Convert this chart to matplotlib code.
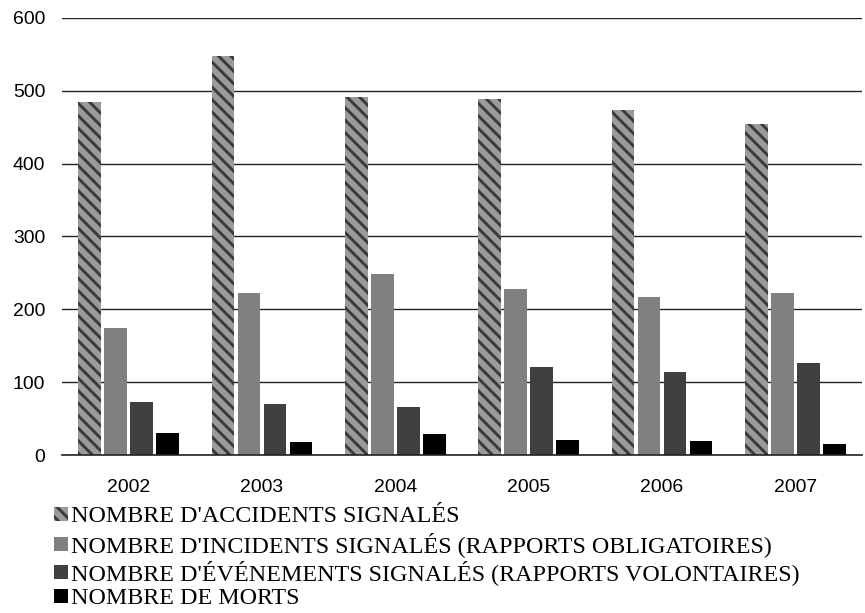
import numpy as np
import matplotlib.pyplot as plt
from matplotlib.patches import Patch

years = ['2002', '2003', '2004', '2005', '2006', '2007']
accidents = [485, 548, 492, 489, 473, 454]
incidents = [174, 223, 248, 228, 217, 222]
evenements = [73, 70, 66, 121, 114, 126]
morts = [30, 18, 29, 21, 19, 15]

labels = ["NOMBRE D'ACCIDENTS SIGNALÉS",
          "NOMBRE D'INCIDENTS SIGNALÉS (RAPPORTS OBLIGATOIRES)",
          "NOMBRE D'ÉVÉNEMENTS SIGNALÉS (RAPPORTS VOLONTAIRES)",
          "NOMBRE DE MORTS"]

# dpi 75 so that the hatch stripes come out ~12 px apart
DPI = 75
k = 100 / DPI  # point sizes scaled so they look like at 100 dpi

plt.rcParams['font.family'] = ['Liberation Sans', 'DejaVu Sans']
plt.rcParams['hatch.linewidth'] = 2.8

fig = plt.figure(figsize=(865 / DPI, 613 / DPI), dpi=DPI)
ax = fig.add_axes([62 / 865, 158 / 613, 800 / 865, 437 / 613])

x = np.arange(len(years))
w = 0.172
step = 0.195
offs = [-1.5 * step, -0.5 * step, 0.5 * step, 1.5 * step]

ax.bar(x + offs[0], accidents, w, color='#9a9a9a', edgecolor='#3a3a3a',
       linewidth=0, hatch='\\\\', zorder=2)
ax.bar(x + offs[1], incidents, w, color='#808080', zorder=2)
ax.bar(x + offs[2], evenements, w, color='#404040', zorder=2)
ax.bar(x + offs[3], morts, w, color='#000000', zorder=2)

ax.set_ylim(0, 600)
ax.set_xlim(-0.5, 5.5)
ax.set_yticks(range(0, 601, 100))
ax.set_xticks(x)
ax.set_xticklabels(years)
ax.yaxis.grid(True, color='#222222', linewidth=1 * k)
ax.set_axisbelow(True)
for s in ['top', 'right', 'left']:
    ax.spines[s].set_visible(False)
ax.spines['bottom'].set_color('#222222')
ax.spines['bottom'].set_linewidth(1.2 * k)
ax.tick_params(axis='both', length=0, labelsize=14 * k)
ax.tick_params(axis='x', pad=17 * k)
ax.tick_params(axis='y', pad=12 * k)

handles = [
    Patch(facecolor='#9a9a9a', edgecolor='#3a3a3a', linewidth=0, hatch='\\\\'),
    Patch(facecolor='#808080'),
    Patch(facecolor='#404040'),
    Patch(facecolor='#000000'),
]
# one legend per row so the rows are evenly spaced
row_y = [516, 544, 572, 598]
for h, lab, yy in zip(handles, labels, row_y):
    fig.legend([h], [lab], loc='center left', bbox_to_anchor=(54 / 865, 1 - (yy + 1) / 613),
               frameon=False, handlelength=0.58, handleheight=0.58, handletextpad=0.12,
               borderpad=0, borderaxespad=0,
               prop={'family': 'Liberation Serif', 'size': 17.3 * k})

fig.savefig('out.png', dpi=DPI)
